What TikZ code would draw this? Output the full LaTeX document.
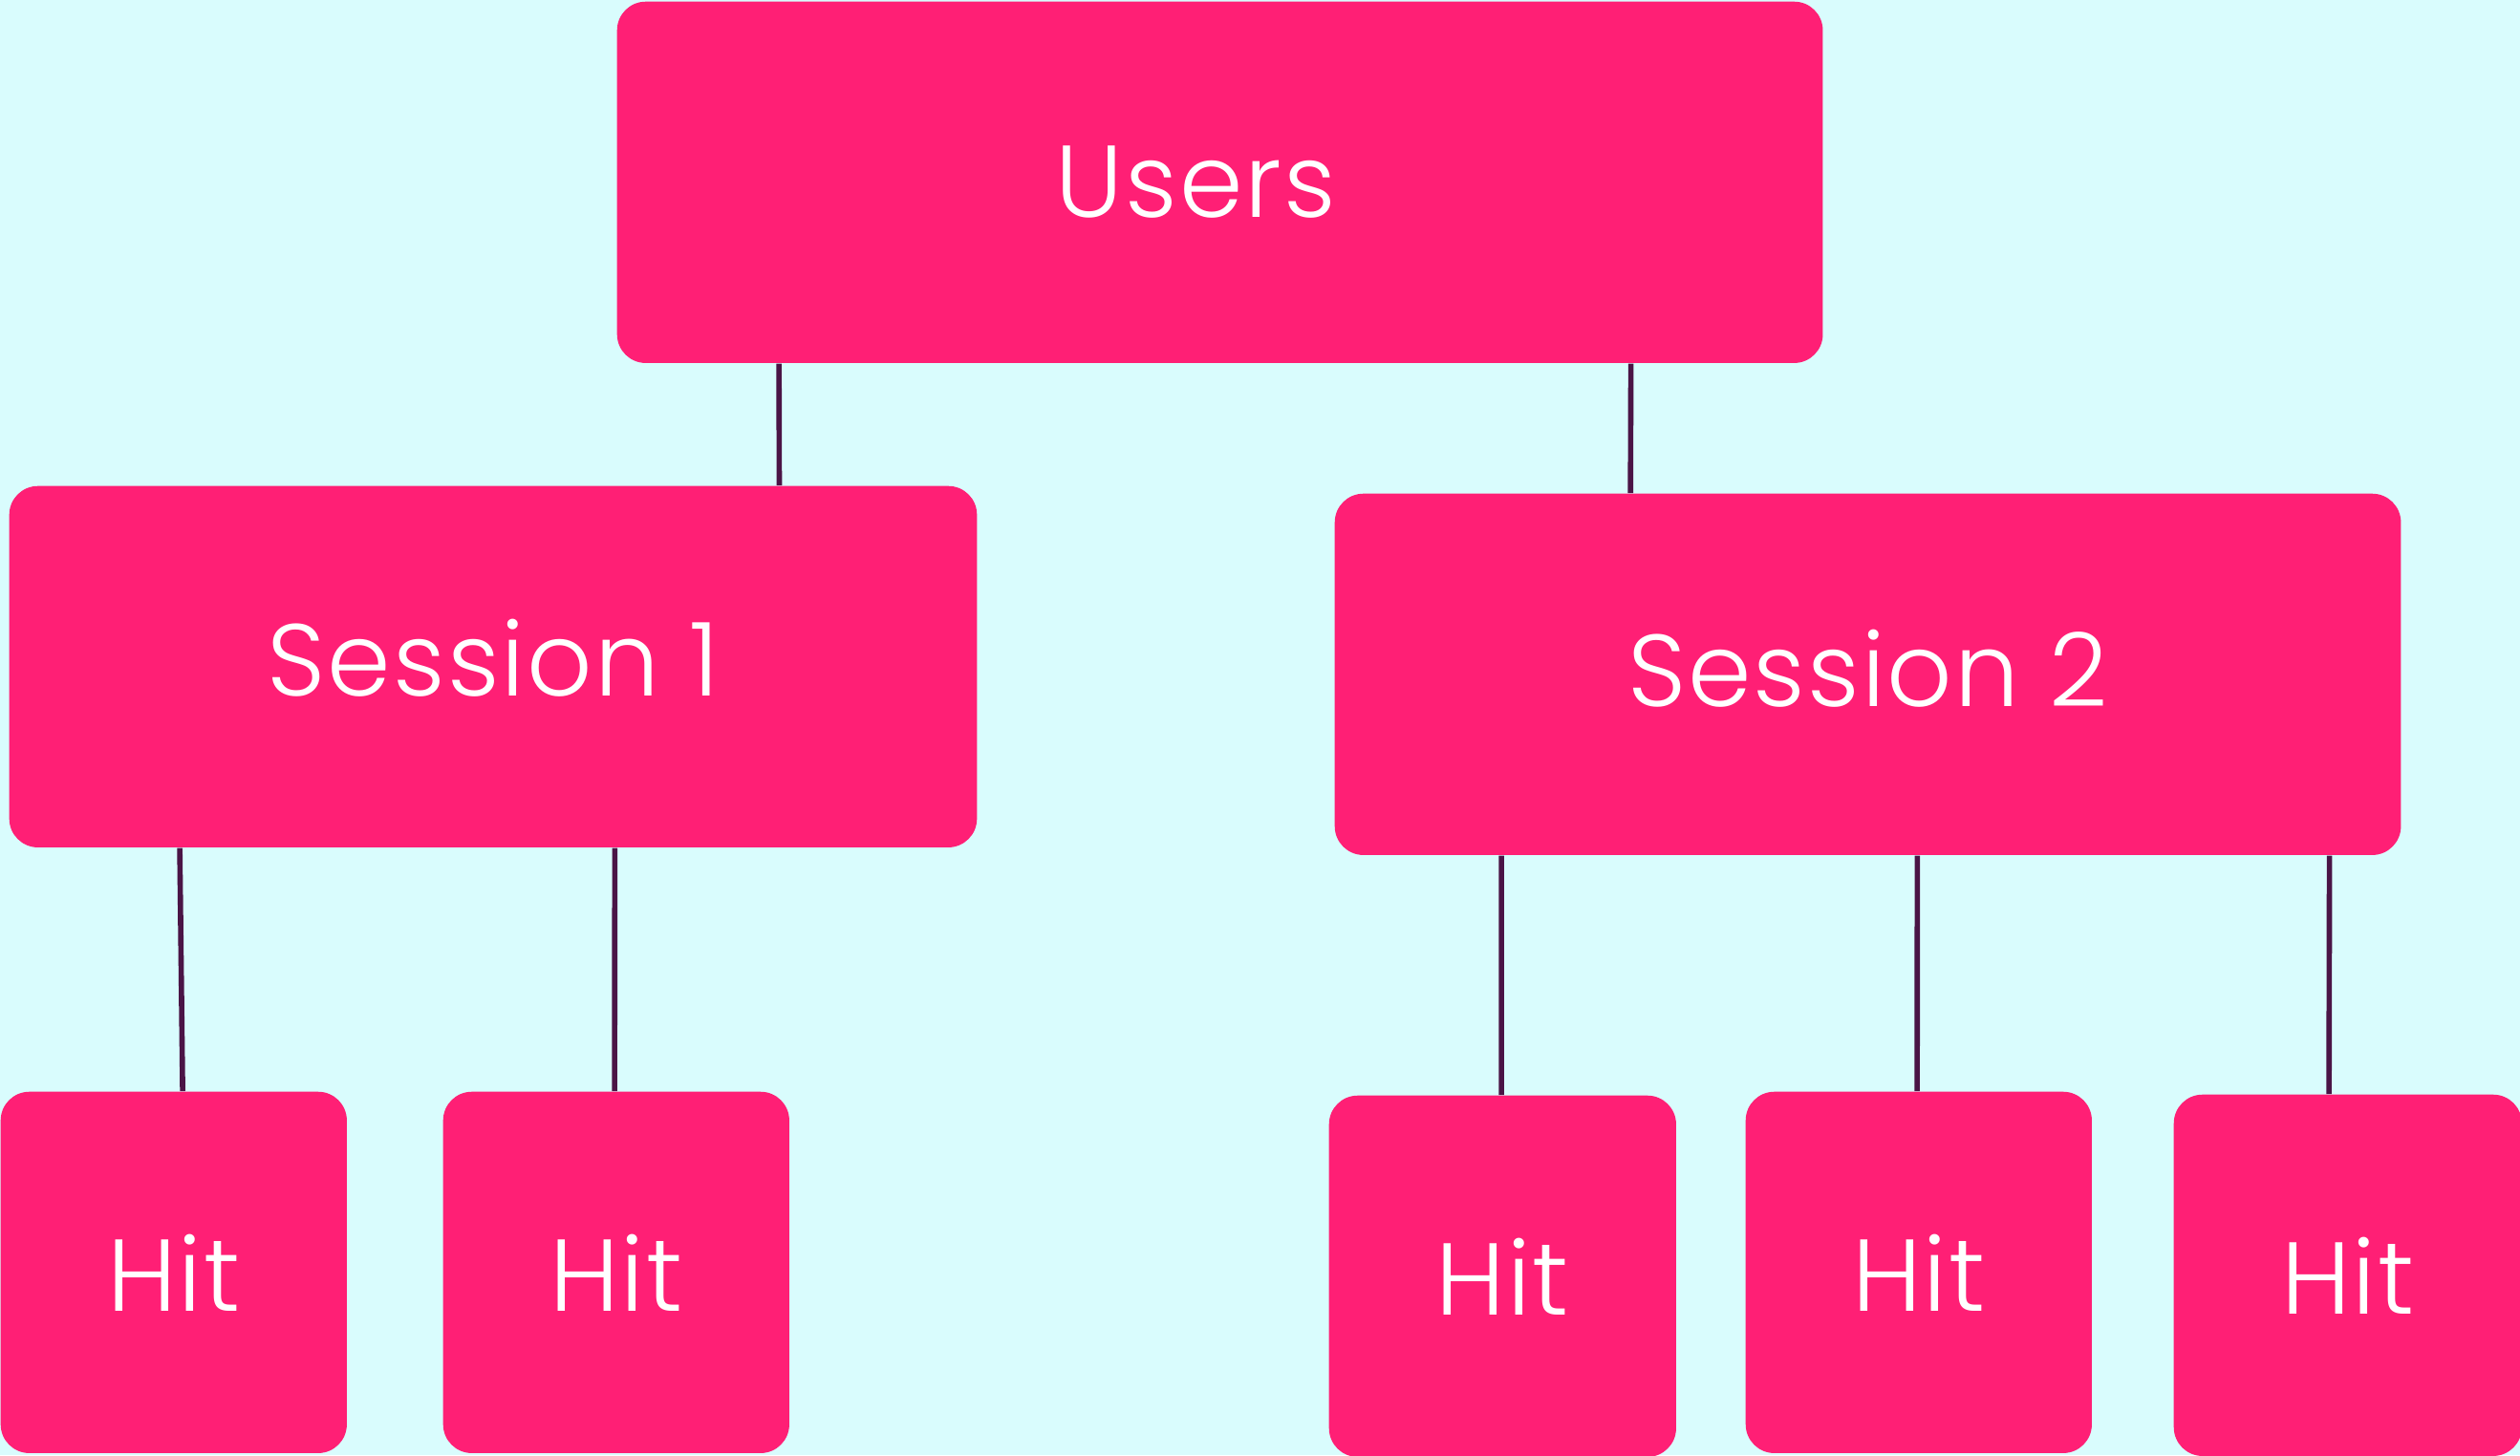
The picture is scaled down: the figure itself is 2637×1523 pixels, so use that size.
\documentclass[tikz,border=0pt]{standalone}
\usepackage{fontspec}
\setmainfont[LetterSpace=2]{Poppins Light}
\definecolor{pagebg}{HTML}{D9FCFD}
\definecolor{boxpink}{HTML}{FF1F75}
\definecolor{linkpurple}{HTML}{4A1446}
\begin{document}
\begin{tikzpicture}[x=0.01cm,y=-0.01cm,
  card/.style={draw=none, fill=boxpink, rounded corners=0.3cm, inner sep=0pt,
    anchor=north west, text=white, font=\fontsize{30.4}{36}\selectfont},
  link/.style={draw=linkpurple, line width=1.6pt}]
  % page and frame
  \fill[pagebg] (0,0) rectangle (2637,1523);
  \useasboundingbox (0,0) rectangle (2637,1523);
  \clip (0,0) rectangle (2637,1523);

  % boxes
  \node[card, minimum width=12.61cm, minimum height=3.78cm] (users) at (645,1) {Users\kern0.5cm};
  \node[card, minimum width=10.12cm, minimum height=3.78cm, text depth=0.2cm] (s1) at (9,508) {Session 1};
  \node[card, minimum width=11.15cm, minimum height=3.78cm, text depth=0.14cm] (s2) at (1396,516) {Session 2};
  \node[card, minimum width=3.62cm, minimum height=3.78cm] (h1) at (0,1142) {Hit};
  \node[card, minimum width=3.62cm, minimum height=3.78cm] (h2) at (463,1142) {Hit};
  \node[card, minimum width=3.63cm, minimum height=3.78cm] (h3) at (1390,1146) {Hit};
  \node[card, minimum width=3.62cm, minimum height=3.78cm] (h4) at (1826,1142) {Hit};
  \node[card, minimum width=3.64cm, minimum height=3.78cm] (h5) at (2274,1145) {Hit};

  % tree links
  \draw[link] ([xshift=1.70cm]users.south west) -- ([xshift=8.06cm]s1.north west);
  \draw[link] ([xshift=10.61cm]users.south west) -- ([xshift=3.10cm]s2.north west);
  \draw[link] ([xshift=1.79cm]s1.south west) -- ([xshift=1.91cm]h1.north west);
  \draw[link] ([xshift=6.34cm]s1.south west) -- ([xshift=1.80cm]h2.north west);
  \draw[link] ([xshift=1.75cm]s2.south west) -- ([xshift=1.81cm]h3.north west);
  \draw[link] ([xshift=6.10cm]s2.south west) -- ([xshift=1.80cm]h4.north west);
  \draw[link] ([xshift=10.41cm]s2.south west) -- ([xshift=1.63cm]h5.north west);
\end{tikzpicture}
\end{document}
